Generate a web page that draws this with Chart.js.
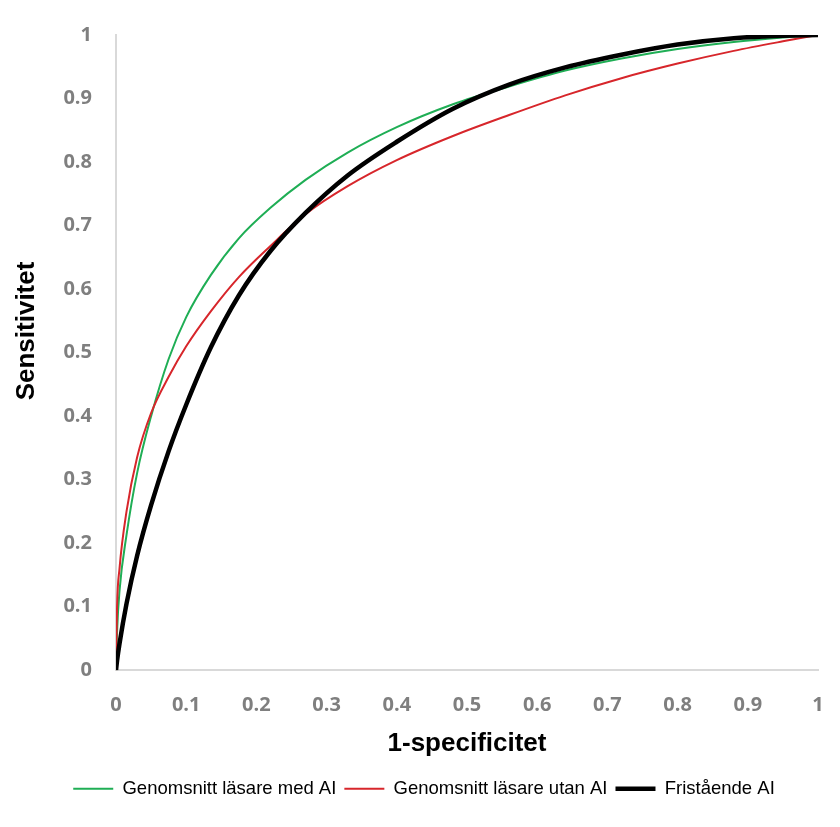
<!DOCTYPE html>
<html>
<head>
<meta charset="utf-8">
<script src="https://cdn.jsdelivr.net/npm/chart.js@4"></script>
<style>
  html, body { margin: 0; padding: 0; background: #fff; }
  #wrap { width: 840px; height: 827px; }
</style>
</head>
<body>
<div id="wrap"><canvas id="myChart"></canvas></div>
<script>
// ROC curves (x = 1-specificitet, y = sensitivitet)
const fpr = [0, 0.0015, 0.005, 0.015, 0.03, 0.05, 0.075, 0.10, 0.135, 0.175, 0.22, 0.27, 0.33, 0.40, 0.48, 0.56, 0.64, 0.72, 0.80, 0.88, 0.95, 1];
const tprMedAI = [0, 0.06, 0.125, 0.213, 0.31, 0.40, 0.49, 0.556, 0.622, 0.68, 0.728, 0.772, 0.815, 0.855, 0.891, 0.919, 0.944, 0.963, 0.978, 0.989, 0.996, 1];
const tprUtanAI = [0, 0.10, 0.16, 0.25, 0.335, 0.405, 0.462, 0.510, 0.565, 0.619, 0.668, 0.718, 0.762, 0.803, 0.841, 0.874, 0.905, 0.932, 0.955, 0.975, 0.99, 1];
const tprFristaende = [0, 0.015, 0.042, 0.105, 0.18, 0.26, 0.345, 0.418, 0.508, 0.59, 0.66, 0.72, 0.779, 0.832, 0.884, 0.922, 0.949, 0.969, 0.985, 0.995, 0.999, 1];

const seriesNames = ["Genomsnitt läsare med AI", "Genomsnitt läsare utan AI", "Fristående AI"];
const axisTicks = [0, 0.1, 0.2, 0.3, 0.4, 0.5, 0.6, 0.7, 0.8, 0.9, 1];

function toPoints(xs, ys) {
  return xs.map((x, i) => ({ x: x, y: ys[i] }));
}

const tickFont = { family: "'Open Sans'", size: 20, weight: "bold" };
const titleFont = { family: "'Liberation Sans', Arial", size: 26, weight: "bold" };

const ctx = document.getElementById("myChart").getContext("2d");
const myChart = new Chart(ctx, {
  type: "scatter",
  data: {
    datasets: [
      {
        label: seriesNames[0],
        data: toPoints(fpr, tprMedAI),
        borderColor: "#1fae55",
        backgroundColor: "#1fae55",
        borderWidth: 2,
        order: 2,
      },
      {
        label: seriesNames[1],
        data: toPoints(fpr, tprUtanAI),
        borderColor: "#d7262b",
        backgroundColor: "#d7262b",
        borderWidth: 2,
        order: 1,
      },
      {
        label: seriesNames[2],
        data: toPoints(fpr, tprFristaende),
        borderColor: "#000000",
        backgroundColor: "#000000",
        borderWidth: 4.5,
        order: 0,
      },
    ],
  },
  options: {
    responsive: true,
    maintainAspectRatio: false,
    animation: false,
    showLine: true,
    elements: {
      point: { radius: 0, hoverRadius: 0 },
      line: { cubicInterpolationMode: "monotone", fill: false },
    },
    layout: { padding: { top: 35, right: 22, bottom: 19, left: 30 } },
    scales: {
      x: {
        type: "linear",
        min: 0,
        max: 1,
        afterBuildTicks: (scale) => { scale.ticks = axisTicks.map((v) => ({ value: v })); },
        afterFit: (scale) => { scale.height -= 14; },
        grid: { display: false },
        border: { display: true, color: "#d9d9d9", width: 2 },
        ticks: {
          color: "#7f7f7f",
          font: tickFont,
          padding: 15,
          maxRotation: 0,
          callback: (v) => String(Math.round(v * 10) / 10),
        },
        title: {
          display: true,
          text: "1-specificitet",
          color: "#000",
          font: titleFont,
          padding: { top: 10, bottom: 12 },
        },
      },
      y: {
        type: "linear",
        min: 0,
        max: 1,
        afterBuildTicks: (scale) => { scale.ticks = axisTicks.map((v) => ({ value: v })); },
        afterFit: (scale) => { scale.width = 86; },
        grid: { display: false },
        border: { display: true, color: "#d9d9d9", width: 2 },
        ticks: {
          color: "#7f7f7f",
          font: tickFont,
          padding: 16,
          callback: (v) => String(Math.round(v * 10) / 10),
        },
        title: {
          display: true,
          // leading spaces lift the title a little, as in the original
          text: "      Sensitivitet",
          color: "#000",
          font: titleFont,
          padding: { top: -18.6, bottom: 0 },
        },
      },
    },
    plugins: {
      tooltip: { enabled: false },
      legend: {
        position: "bottom",
        labels: {
          color: "#000",
          font: { family: "'Liberation Sans', Arial", size: 18.5 },
          usePointStyle: true,
          pointStyle: "line",
          pointStyleWidth: 40,
          padding: 8,
          sort: (a, b) => a.datasetIndex - b.datasetIndex,
        },
      },
    },
  },
});
</script>
</body>
</html>
